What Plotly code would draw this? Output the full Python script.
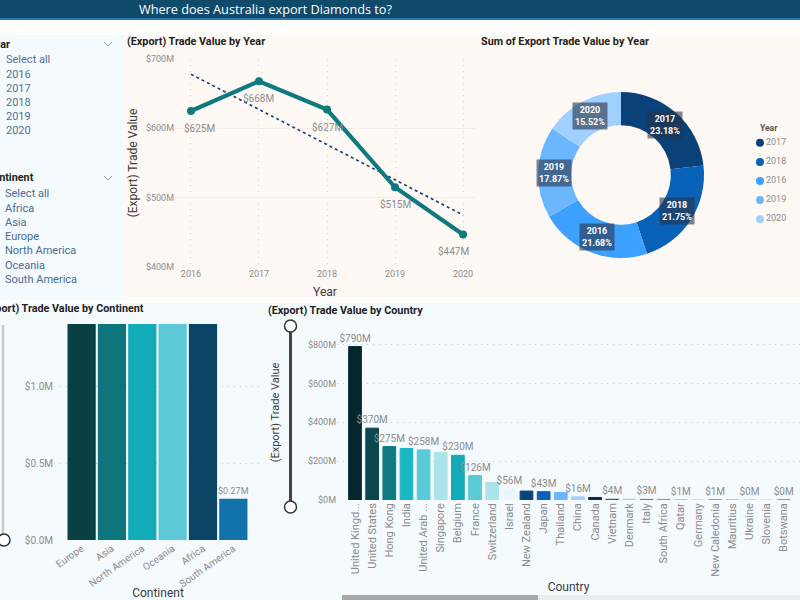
import math
import plotly.graph_objects as go

# trade values
years = [2016, 2017, 2018, 2019, 2020]
year_values = [625, 668, 627, 515, 447]
trend_values = [678, 627, 576, 525, 475]

donut_years = ["2017", "2018", "2016", "2019", "2020"]
donut_pct = [23.18, 21.75, 21.68, 17.87, 15.52]
donut_colors = ["#0A4178", "#0A62B8", "#3CA0FF", "#6CB6FF", "#A0D0FF"]

continents = ["Europe", "Asia", "North America", "Oceania", "Africa", "South America"]
continent_values = [1.41, 1.41, 1.41, 1.41, 1.41, 0.27]
continent_labels = ["", "", "", "", "", "$0.27M"]
continent_colors = ["#084044", "#0E757C", "#12ABB8", "#5BCAD6", "#0B4566", "#1272AB"]
continent_ticks = [0, 0.5, 1.0]
continent_tick_labels = ["$0.0M", "$0.5M", "$1.0M"]

countries = ["United Kingd...", "United States", "Hong Kong", "India", "United Arab ...", "Singapore",
             "Belgium", "France", "Switzerland", "Israel", "New Zealand", "Japan", "Thailand", "China",
             "Canada", "Vietnam", "Denmark", "Italy", "South Africa", "Qatar", "Germany", "New Caledonia",
             "Mauritius", "Ukraine", "Slovenia", "Botswana"]
country_values = [790, 370, 275, 265, 258, 245, 230, 126, 90, 56, 46, 43, 38, 16, 13, 4, 4, 3, 3, 1, 1, 1,
                  1, 0.5, 0.3, 0.3]
country_labels = ["$790M", "$370M", "$275M", "", "$258M", "", "$230M", "$126M", "", "$56M", "", "$43M", "",
                  "$16M", "", "$4M", "", "$3M", "", "$1M", "", "$1M", "", "$0M", "", "$0M"]
country_colors = ["#04282E", "#0B474D", "#0F7A83", "#1BB7C4", "#5BCAD6", "#AAE4E9", "#12ABB8", "#5BCAD6",
                  "#AAE4E9", "#EBF6FC", "#0A447D", "#0A62B8", "#6CB6FF", "#9FD0FF", "#0A2A52", "#345A8A",
                  "#9FD0FF", "#6B6F96", "#7A9CC6", "#B0BCC8", "#D0D8E0", "#8A8F9F", "#B8BCC4", "#C8CDD4",
                  "#DDE3E8", "#B06B5F"]

year_items = ["Select all", "2016", "2017", "2018", "2019", "2020"]
continent_items = ["Select all", "Africa", "Asia", "Europe", "North America", "Oceania", "South America"]

FONT = "Roboto"
GREY = "#8C8C8C"
DARK = "#3A3A3A"
DOTS = "1px,5px"


def px(x):
    return x / 800


def py(y):
    return 1 - y / 600


def dom_x(a, b):
    return [px(a), px(b)]


def dom_y(top, bottom):
    return [py(bottom), py(top)]


def text(x, y, s, size=10, color=DARK, anchor="left", bold=False, angle=0, font=FONT):
    # annotations carry about 2px of padding, take it back here
    nudge = {"left": -2, "right": 2, "center": 0}[anchor]
    return dict(xref="paper", yref="paper", x=px(x + nudge), y=py(y), text="<b>" + s + "</b>" if bold else s,
                showarrow=False, xanchor=anchor, yanchor="middle", textangle=angle,
                font=dict(family=font, size=size, color=color))


def rect(x0, y0, x1, y1, color):
    return dict(type="rect", xref="paper", yref="paper", x0=px(x0), x1=px(x1), y0=py(y0), y1=py(y1),
                fillcolor=color, line_width=0, layer="below")


def circle(x, y, r, border):
    return dict(type="circle", xref="paper", yref="paper", x0=px(x - r), x1=px(x + r), y0=py(y - r),
                y1=py(y + r), fillcolor="white", line=dict(color=border, width=1.5), layer="above")


def vline(x, y0, y1, color, width):
    return dict(type="line", xref="paper", yref="paper", x0=px(x), x1=px(x), y0=py(y0), y1=py(y1),
                line=dict(color=color, width=width), layer="above")


def chevron(x, y):
    return dict(type="path", xref="paper", yref="paper", layer="above",
                path="M %f %f L %f %f L %f %f" % (px(x - 4), py(y - 2), px(x), py(y + 2), px(x + 4), py(y - 2)),
                line=dict(color="#9A9A9A", width=1))


fig = go.Figure()

# line chart
fig.add_trace(go.Scatter(x=years, y=trend_values, mode="lines", xaxis="x", yaxis="y",
                         line=dict(color="#123F73", width=1.6, dash="dot")))
fig.add_trace(go.Scatter(x=years, y=year_values, mode="lines+markers", xaxis="x", yaxis="y",
                         line=dict(color="#0E7A80", width=4.2), marker=dict(color="#0E7A80", size=8)))

# donut
fig.add_trace(go.Pie(labels=donut_years, values=donut_pct, hole=0.6, sort=False, direction="clockwise",
                     rotation=0, textinfo="none", showlegend=False,
                     marker=dict(colors=donut_colors, line_width=0),
                     domain=dict(x=dom_x(538, 704), y=dom_y(92, 258))))

# legend of the donut
fig.add_trace(go.Scatter(x=[0] * 5, y=donut_years, mode="markers+text", xaxis="x4", yaxis="y4",
                         text=donut_years, textposition="middle right",
                         textfont=dict(family=FONT, size=9, color=GREY),
                         marker=dict(color=donut_colors, size=8)))

# continents
fig.add_trace(go.Bar(x=continents, y=continent_values, xaxis="x2", yaxis="y2", text=continent_labels,
                     textposition="outside", cliponaxis=True, constraintext="none",
                     textfont=dict(family=FONT, size=9, color=GREY),
                     marker=dict(color=continent_colors, line_width=0)))

# countries
fig.add_trace(go.Bar(x=countries, y=country_values, xaxis="x3", yaxis="y3", text=country_labels, width=0.74,
                     textposition="outside", cliponaxis=False, constraintext="none",
                     textfont=dict(family=FONT, size=10, color=GREY),
                     marker=dict(color=country_colors, line=dict(color=country_colors, width=1))))

tick_font = dict(family=FONT, size=9, color=GREY)
title_font = dict(family=FONT, size=11, color=DARK)
big_title_font = dict(family=FONT, size=12, color=DARK)

annotations = [
    text(139, 9, "Where does Australia export Diamonds to?", size=12.7, color="white", font="Open Sans"),
    text(127, 41, "(Export) Trade Value by Year", size=10.8, bold=True, color="#222222"),
    text(481, 41, "Sum of Export Trade Value by Year", size=10.8, bold=True, color="#222222"),
    text(144, 308, "(Export) Trade Value by Continent", size=10.8, anchor="right", bold=True, color="#222222"),
    text(268, 310, "(Export) Trade Value by Country", size=10.8, bold=True, color="#222222"),
    text(10, 45, "Year", size=10.8, anchor="right", bold=True, color="#222222"),
    text(34, 178, "Continent", size=10.8, anchor="right", bold=True, color="#222222"),
    text(760, 128, "Year", size=8.5, color="#555555", bold=True),
]
for i, item in enumerate(year_items):
    annotations.append(text(6, 60 + i * 14.2, item, size=11, color="#5A6F8F"))
for i, item in enumerate(continent_items):
    annotations.append(text(5, 194 + i * 14.2, item, size=11, color="#4A6A94"))

# value labels under the line
label_shift = [9, 0, 0, 0, -10]
for yr, val, sh in zip(years, year_values, label_shift):
    annotations.append(dict(xref="x", yref="y", x=yr, y=val, text="$%dM" % val, showarrow=False, yshift=-17,
                            xshift=sh, font=dict(family=FONT, size=10, color=GREY)))

# boxes on the donut, placed at the middle of each slice
cum = 0
total = sum(donut_pct)
for yr, pct in zip(donut_years, donut_pct):
    ang = (cum + pct / 2) / total * 2 * math.pi
    cum += pct
    annotations.append(text(621 + 66.6 * math.sin(ang), 175 - 66.6 * math.cos(ang),
                            "%s<br>%.2f%%" % (yr, pct), size=9, color="white", anchor="center", bold=True))
    annotations[-1].update(bgcolor="rgba(40,50,70,0.6)", borderpad=2)

shapes = [
    rect(0, 0, 800, 18, "#0F4A6B"),
    rect(0, 18, 800, 20, "#2A7CA8"),
    rect(0, 35, 123, 300, "#F5FAFF"),
    rect(123, 35, 800, 300, "#FFF9F6"),
    rect(0, 303, 800, 600, "#F5FAFF"),
    rect(342, 595, 800, 600, "#ECECEE"),
    rect(342, 595, 538, 600, "#A8A8A8"),
    vline(3, 325, 540, "#C8C8C8", 2.5),
    circle(4, 540, 6, "#333333"),
    vline(290.5, 326, 507, "#444444", 3),
    circle(290.5, 326, 6, "#333333"),
    circle(290.5, 507, 6, "#333333"),
    chevron(108, 44),
    chevron(108, 178),
]

fig.update_layout(
    width=800, height=600, autosize=False, margin=dict(l=0, r=0, t=0, b=0, autoexpand=False), showlegend=False,
    paper_bgcolor="white", plot_bgcolor="rgba(0,0,0,0)", bargap=0.07, font=dict(family=FONT),
    annotations=annotations, shapes=shapes,
    xaxis=dict(domain=dom_x(175, 475), range=[2015.765, 2020.176], tickvals=years, showline=False, zeroline=False,
               showgrid=True, gridcolor="#D8D4D0", griddash=DOTS, tickfont=tick_font,
               title=dict(text="Year", font=big_title_font, standoff=9)),
    yaxis=dict(domain=dom_y(59, 267), range=[400, 700], dtick=100, tickprefix="$", ticksuffix="M", zeroline=False,
               gridcolor="#F3EDE9", tickfont=tick_font,
               title=dict(text="(Export) Trade Value", font=big_title_font, standoff=5)),
    xaxis2=dict(domain=dom_x(54, 262), range=[-0.91, 5.945], anchor="y2", showgrid=False, tickangle=-35,
                tickfont=dict(family=FONT, size=10, color=GREY),
                title=dict(text="Continent", font=big_title_font, standoff=9)),
    yaxis2=dict(domain=dom_y(324, 540), range=[0, 1.41], anchor="x2", tickvals=continent_ticks,
                ticktext=continent_tick_labels, zeroline=False, gridcolor="#C8CCD0", griddash=DOTS,
                tickfont=dict(family=FONT, size=10, color=GREY)),
    xaxis3=dict(domain=dom_x(337, 800), range=[-1.05, 25.95], anchor="y3", showgrid=False, tickangle=-90,
                tickfont=dict(family=FONT, size=11, color=GREY),
                title=dict(text="Country", font=big_title_font, standoff=6)),
    yaxis3=dict(domain=dom_y(325, 500), range=[0, 901], anchor="x3", dtick=200, tickprefix="$", ticksuffix="M",
                zeroline=False, gridcolor="#C8CCD0", griddash=DOTS, tickfont=tick_font,
                title=dict(text="(Export) Trade Value", font=title_font, standoff=26)),
    xaxis4=dict(domain=dom_x(755, 800), range=[-0.5, 4], visible=False),
    yaxis4=dict(domain=dom_y(133, 229), anchor="x4", autorange="reversed", type="category", visible=False),
)

fig.write_html("out.html", config={"displayModeBar": False}, post_script="document.body.style.margin='0';")
